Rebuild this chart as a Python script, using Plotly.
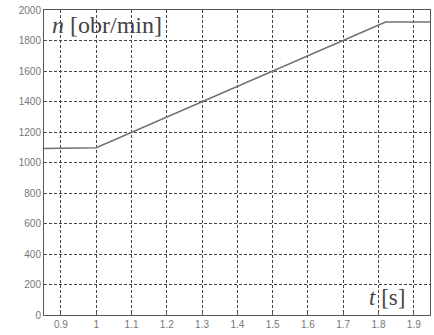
import plotly.graph_objects as go

t = [0.852, 1.0, 1.82, 1.946]
n = [1092, 1097, 1921, 1921]
xticks = [0.9, 1.0, 1.1, 1.2, 1.3, 1.4, 1.5, 1.6, 1.7, 1.8, 1.9]
xlabels = ["0.9", "1", "1.1", "1.2", "1.3", "1.4", "1.5", "1.6", "1.7", "1.8", "1.9"]
yticks = [0, 200, 400, 600, 800, 1000, 1200, 1400, 1600, 1800, 2000]

fig = go.Figure()
fig.add_trace(go.Scatter(x=t, y=n, mode="lines",
                         line=dict(color="#707070", width=1.6),
                         showlegend=False, hoverinfo="skip"))

fig.update_layout(
    width=434, height=335,
    margin=dict(l=44, r=4, t=10, b=20),
    paper_bgcolor="white", plot_bgcolor="white",
    font=dict(family="Liberation Sans Narrow, Arial Narrow, Liberation Sans, sans-serif", size=10, color="#777"),
    xaxis=dict(range=[0.852, 1.946], tickvals=xticks, ticktext=xlabels,
               showgrid=True, gridcolor="#444", gridwidth=1, griddash="3px,2px",
               showline=True, linecolor="#555", linewidth=1, mirror=True,
               ticks="inside", ticklen=3, tickcolor="#555", zeroline=False,
               tickfont=dict(size=10, color="#777")),
    yaxis=dict(range=[0, 2000], tickvals=yticks,
               showgrid=True, gridcolor="#444", gridwidth=1, griddash="3px,2px",
               showline=True, linecolor="#555", linewidth=1, mirror=True,
               ticks="inside", ticklen=3, tickcolor="#555", zeroline=False,
               tickfont=dict(size=10, color="#777")),
    annotations=[
        dict(text="<i>n</i> [obr/min]", x=0.015, y=1.0, xref="paper", yref="paper",
             xanchor="left", yanchor="top", showarrow=False,
             font=dict(family="Liberation Serif, Times New Roman, serif", size=24, color="#444")),
        dict(text="<i>t</i> [s]", x=0.94, y=0.01, xref="paper", yref="paper",
             xanchor="right", yanchor="bottom", showarrow=False,
             font=dict(family="Liberation Serif, Times New Roman, serif", size=23, color="#444")),
    ],
)

fig.write_html("out.html")
